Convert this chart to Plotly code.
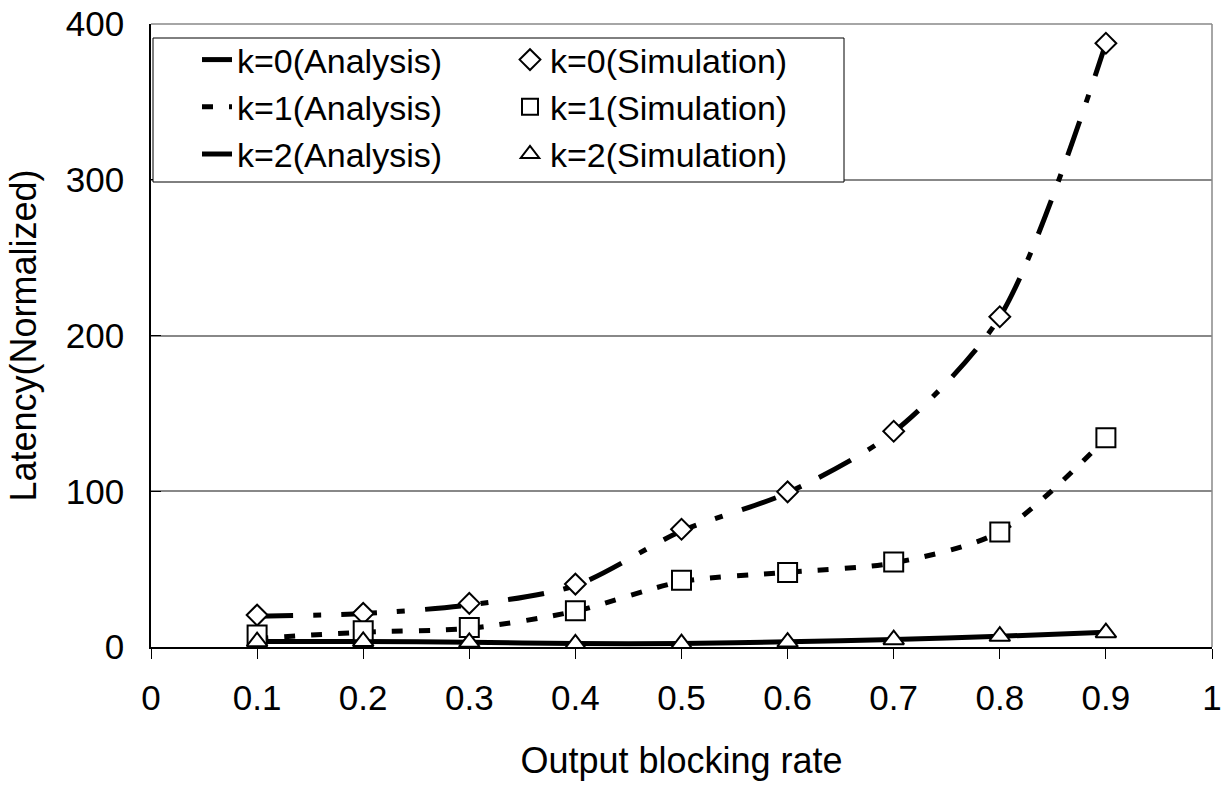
import plotly.graph_objects as go

# ---- data ----
x_rate = [0.1, 0.2, 0.3, 0.4, 0.5, 0.6, 0.7, 0.8, 0.9]

k0_analysis = [19.8, 21.5, 27.0, 39.5, 74.5, 99.0, 138.0, 212.0, 387.6]
k1_analysis = [5.5, 9.5, 12.0, 23.0, 42.0, 48.0, 54.0, 74.0, 134.0]
k2_analysis = [3.5, 3.6, 3.0, 2.3, 2.2, 3.3, 4.8, 6.9, 9.5]

k0_sim = [20.5, 21.6, 28.0, 40.4, 75.6, 99.6, 138.5, 212.0, 387.6]
k1_sim = [7.7, 10.5, 12.6, 23.3, 42.8, 47.8, 54.6, 73.9, 134.3]
k2_sim = [3.4, 3.6, 3.0, 2.0, 2.1, 3.2, 4.7, 6.9, 9.2]

analysis_names = ["k=0(Analysis)", "k=1(Analysis)", "k=2(Analysis)"]
sim_names = ["k=0(Simulation)", "k=1(Simulation)", "k=2(Simulation)"]

x_ticks = [0, 0.1, 0.2, 0.3, 0.4, 0.5, 0.6, 0.7, 0.8, 0.9, 1]
x_tick_labels = ["0", "0.1", "0.2", "0.3", "0.4", "0.5", "0.6", "0.7", "0.8", "0.9", "1"]
y_ticks = [0, 100, 200, 300, 400]

FONT = "Liberation Sans, Arial, sans-serif"

fig = go.Figure()

dashes = ["36px,20px,8px,20px", "11px,16px", "solid"]
for name, ys, dash in zip(analysis_names, [k0_analysis, k1_analysis, k2_analysis], dashes):
    fig.add_trace(go.Scatter(
        x=x_rate, y=ys, name=name, mode="lines",
        line=dict(color="black", width=5, dash=dash, shape="spline", smoothing=0.8),
        legend="legend",
    ))

symbols = ["diamond", "square", "triangle-up"]
sizes = [16, 19, 18]
for name, ys, sym, sz in zip(sim_names, [k0_sim, k1_sim, k2_sim], symbols, sizes):
    fig.add_trace(go.Scatter(
        x=x_rate, y=ys, name=name, mode="markers",
        marker=dict(symbol=sym, size=sz, color="white",
                    line=dict(color="black", width=2)),
        legend="legend2",
    ))

# body margin is removed by a post script, so the figure starts at the corner
L, R, T, B = 151, 13, 24, 138
W, H = 1225, 785
pw, ph = W - L - R, H - T - B

def px_x(p):
    return (p - L) / pw

def px_y(p):
    return 1 - (p - T) / ph

# legend frame (drawn as a shape so both legend columns share one box)
fig.add_shape(type="rect", xref="paper", yref="paper",
              x0=px_x(153), x1=px_x(844), y0=px_y(182), y1=px_y(38),
              fillcolor="white", line=dict(color="black", width=1), layer="above")
# right and top frame lines
fig.add_shape(type="line", xref="paper", yref="paper",
              x0=1, x1=1, y0=0, y1=1, line=dict(color="#888888", width=1.5), layer="below")
fig.add_shape(type="line", xref="paper", yref="paper",
              x0=0, x1=1, y0=1, y1=1, line=dict(color="#888888", width=1.5), layer="below")

fig.update_layout(
    width=W, height=H, autosize=False,
    margin=dict(l=L, r=R, t=T, b=B, autoexpand=False),
    plot_bgcolor="white", paper_bgcolor="white",
    font=dict(family=FONT, size=35, color="black"),
    showlegend=True,
    legend=dict(x=px_x(197), y=px_y(31), xanchor="left", yanchor="top",
                bgcolor="rgba(0,0,0,0)", borderwidth=0,
                font=dict(family=FONT, size=34, color="black")),
    legend2=dict(x=px_x(510), y=px_y(31), xanchor="left", yanchor="top",
                 bgcolor="rgba(0,0,0,0)", borderwidth=0,
                 font=dict(family=FONT, size=34, color="black")),
    xaxis=dict(
        range=[0, 1], tickvals=x_ticks, ticktext=x_tick_labels,
        showgrid=False, zeroline=False, automargin=False,
        showline=True, linecolor="black", linewidth=1.5,
        ticks="outside", ticklen=10, tickcolor="black", tickwidth=1,
        ticklabelstandoff=9, ticklabeloverflow="allow",
        tickfont=dict(family=FONT, size=35, color="black"),
        title=dict(text="Output blocking rate", standoff=32,
                   font=dict(family=FONT, size=36, color="black")),
    ),
    yaxis=dict(
        range=[0, 400], tickvals=y_ticks,
        showgrid=True, gridcolor="#888888", gridwidth=1.5, zeroline=False,
        automargin=False,
        showline=True, linecolor="black", linewidth=1.5,
        ticks="inside", ticklen=10, tickcolor="black", tickwidth=1,
        ticklabelstandoff=18, ticklabeloverflow="allow",
        tickfont=dict(family=FONT, size=35, color="black"),
        title=dict(text="Latency(Normalized)", standoff=18,
                   font=dict(family=FONT, size=36, color="black")),
    ),
)

fig.write_html("out.html", config={"displayModeBar": False},
               post_script="document.body.style.margin='0';")
